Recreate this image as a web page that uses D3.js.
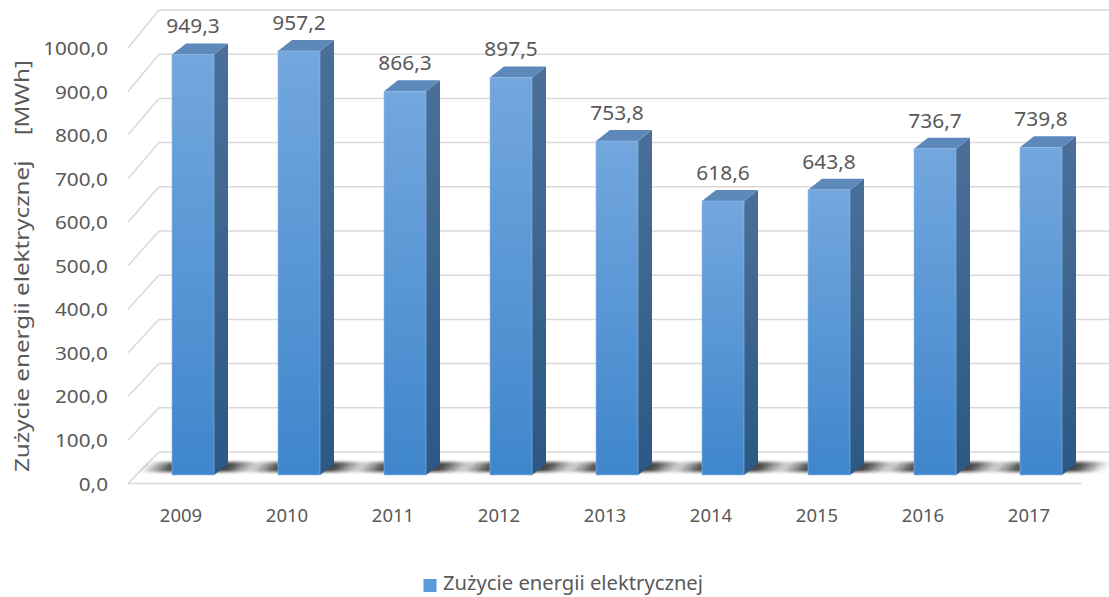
<!DOCTYPE html>
<html>
<head>
<meta charset="utf-8">
<title>Zużycie energii elektrycznej</title>
<style>
  html, body { margin: 0; padding: 0; background: #fff; }
  svg text { font-family: "Noto Sans", "Open Sans", sans-serif; fill: #595959; }
</style>
</head>
<body>
<div id="chart"></div>
<script src="https://cdn.jsdelivr.net/npm/d3@7"></script>
<script>

// Data
var years = ['2009', '2010', '2011', '2012', '2013', '2014', '2015', '2016', '2017'];
var values = [949.3, 957.2, 866.3, 897.5, 753.8, 618.6, 643.8, 736.7, 739.8];
var yTicks = [0, 100, 200, 300, 400, 500, 600, 700, 800, 900, 1000];
var seriesName = 'Zużycie energii elektrycznej';
var axisTitle = 'Zużycie energii elektrycznej    [MWh]';

var W = 1109, H = 597;

// polish number format 949,3
var pl = d3.formatLocale({decimal: ',', thousands: '\u00a0', grouping: [3], currency: ['', ' zł']});
var fmt = pl.format('.1f');

var svg = d3.select('#chart').append('svg')
  .attr('width', W)
  .attr('height', H);

// 3D layout: front edge of floor, back wall and depth offsets
var frontLeft = 128, frontRight = 1082;
var depthX = 31;
var yFront = d3.scaleLinear().domain([0, 1000]).range([483.5, 48]);
var yBack = d3.scaleLinear().domain([0, 1000]).range([452, 10]);
var yBar = d3.scaleLinear().domain([0, 1000]).range([475, 32]);
var x = d3.scaleBand().domain(years).range([frontLeft, frontRight]);

var barW = 42, barShift = 12, barDx = 14, barDy = -11;

function barLeft(d) { return x(d) + x.bandwidth() / 2 + barShift - barW / 2; }

// stretch text horizontally (chart font is wider than Noto)
function stretch(sel, k) {
  sel.each(function() {
    var w = this.getComputedTextLength();
    d3.select(this).attr('textLength', w * k).attr('lengthAdjust', 'spacingAndGlyphs');
  });
}

var defs = svg.append('defs');

var gFront = defs.append('linearGradient').attr('id', 'gFront')
  .attr('x1', 0).attr('y1', 0).attr('x2', 0).attr('y2', 1);
gFront.append('stop').attr('offset', '0%').attr('stop-color', '#73a7de');
gFront.append('stop').attr('offset', '100%').attr('stop-color', '#3f86cc');

var gSide = defs.append('linearGradient').attr('id', 'gSide')
  .attr('x1', 0).attr('y1', 0).attr('x2', 0).attr('y2', 1);
gSide.append('stop').attr('offset', '0%').attr('stop-color', '#4a7099');
gSide.append('stop').attr('offset', '100%').attr('stop-color', '#2b5885');

var blur = defs.append('filter').attr('id', 'shadowBlur')
  .attr('x', '-50%').attr('y', '-100%').attr('width', '200%').attr('height', '300%');
blur.append('feGaussianBlur').attr('stdDeviation', '10 1.5');

// grid: back wall lines + diagonal side wall lines
var grid = svg.append('g').attr('stroke', '#d9d9d9').attr('stroke-width', 1.5).attr('fill', 'none');

grid.selectAll('.back')
  .data(yTicks)
  .enter()
  .append('line')
  .attr('x1', frontLeft + depthX)
  .attr('x2', W)
  .attr('y1', function(d) { return yBack(d); })
  .attr('y2', function(d) { return yBack(d); });

grid.selectAll('.side')
  .data(yTicks)
  .enter()
  .append('line')
  .attr('x1', frontLeft)
  .attr('x2', frontLeft + depthX)
  .attr('y1', function(d) { return yFront(d); })
  .attr('y2', function(d) { return yBack(d); });

// front edge of floor
grid.append('line')
  .attr('x1', frontLeft)
  .attr('x2', frontRight)
  .attr('y1', yFront(0))
  .attr('y2', yFront(0));

// shadows on the floor
svg.append('g')
  .attr('filter', 'url(#shadowBlur)')
  .selectAll('polygon')
  .data(years)
  .enter()
  .append('polygon')
  .attr('fill', '#111')
  .attr('opacity', 0.8)
  .attr('points', function(d) {
    var l = barLeft(d), r = l + barW;
    var yb = yBar(0) - 3, yt = yBar(0) - 13;
    return [[l - 18, yb], [r + 24, yb], [r + 34, yt], [l - 8, yt]].join(' ');
  });

// bars
var bars = svg.append('g').selectAll('g')
  .data(values)
  .enter()
  .append('g');

// side face
bars.append('polygon')
  .attr('fill', 'url(#gSide)')
  .attr('points', function(d, i) {
    var r = barLeft(years[i]) + barW;
    var t = yBar(d), b = yBar(0);
    return [[r, t], [r + barDx, t + barDy], [r + barDx, b + barDy], [r, b]].join(' ');
  });

// top face
bars.append('polygon')
  .attr('fill', '#5c88ba')
  .attr('points', function(d, i) {
    var l = barLeft(years[i]), r = l + barW;
    var t = yBar(d);
    return [[l, t], [r, t], [r + barDx, t + barDy], [l + barDx, t + barDy]].join(' ');
  });

// front face
bars.append('rect')
  .attr('fill', 'url(#gFront)')
  .attr('stroke', '#8fbbe8')
  .attr('stroke-width', 0.6)
  .attr('x', function(d, i) { return barLeft(years[i]); })
  .attr('y', function(d) { return yBar(d); })
  .attr('width', barW)
  .attr('height', function(d) { return yBar(0) - yBar(d); });

// value labels
var valueLabels = svg.append('g').selectAll('text')
  .data(values)
  .enter()
  .append('text')
  .attr('text-anchor', 'middle')
  .style('font-size', '19px')
  .attr('x', function(d, i) { return barLeft(years[i]) + barW / 2; })
  .attr('y', function(d) { return yBar(d) - 21; })
  .text(function(d) { return fmt(d); });
stretch(valueLabels, 1.1);

// y axis labels
var yLabels = svg.append('g').selectAll('text')
  .data(yTicks)
  .enter()
  .append('text')
  .attr('text-anchor', 'end')
  .style('font-size', '18.5px')
  .attr('x', 108)
  .attr('y', function(d) { return yFront(d) + 7; })
  .text(function(d) { return fmt(d); });
stretch(yLabels, 1.12);

// category labels
var xLabels = svg.append('g').selectAll('text')
  .data(years)
  .enter()
  .append('text')
  .attr('text-anchor', 'middle')
  .style('font-size', '18.5px')
  .attr('x', function(d) { return x(d) + x.bandwidth() / 2; })
  .attr('y', 522)
  .text(function(d) { return d; });
stretch(xLabels, 1.0);

// axis title
var title = svg.append('text')
  .attr('text-anchor', 'middle')
  .attr('xml:space', 'preserve')
  .style('white-space', 'pre')
  .style('font-size', '19.5px')
  .attr('transform', 'translate(29,266) rotate(-90)')
  .text(axisTitle);
title.attr('textLength', 412).attr('lengthAdjust', 'spacingAndGlyphs');

// legend
var legend = svg.append('g');
legend.append('rect')
  .attr('x', 423.5)
  .attr('y', 579)
  .attr('width', 13)
  .attr('height', 13)
  .attr('fill', '#5a9ad8');
legend.append('text')
  .style('font-size', '19px')
  .attr('x', 443)
  .attr('y', 590)
  .attr('textLength', 260)
  .attr('lengthAdjust', 'spacingAndGlyphs')
  .text(seriesName);

</script>
</body>
</html>
